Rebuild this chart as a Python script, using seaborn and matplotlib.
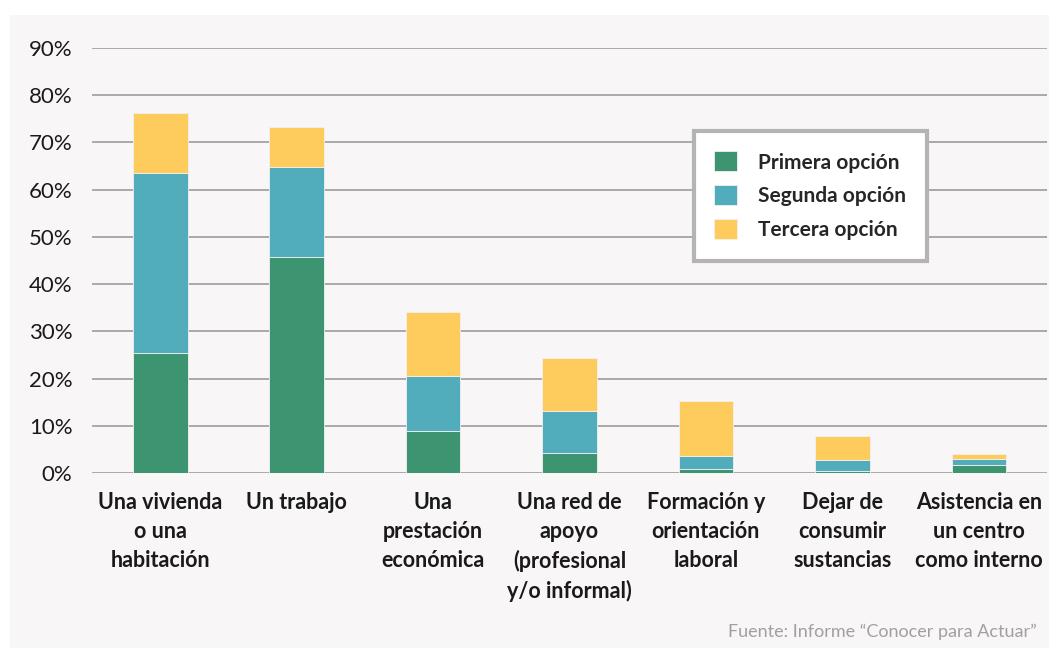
import numpy as np
import pandas as pd
import matplotlib
matplotlib.use("Agg")
import matplotlib.pyplot as plt
from matplotlib.patches import Rectangle
from matplotlib.ticker import PercentFormatter
import seaborn as sns

# data (percent)
categorias = [
    "Una vivienda\no una\nhabitación",
    "Un trabajo",
    "Una\nprestación\neconómica",
    "Una red de\napoyo\n(profesional\ny/o informal)",
    "Formación y\norientación\nlaboral",
    "Dejar de\nconsumir\nsustancias",
    "Asistencia en\nun centro\ncomo interno",
]
primera = [25.4, 45.7, 8.8, 4.3, 0.9, 0.4, 1.7]
segunda = [38.2, 19.0, 11.8, 8.9, 2.8, 2.3, 1.3]
tercera = [12.6, 8.5, 13.6, 11.2, 11.6, 5.1, 1.1]

series = ["Primera opción", "Segunda opción", "Tercera opción"]
colores = ["#3d9470", "#51acbc", "#fdcc5c"]

sns.set_theme(style="white")
plt.rcParams["font.family"] = ["Lato", "DejaVu Sans"]

df = pd.DataFrame({
    "categoria": categorias,
    series[0]: primera,
    series[1]: segunda,
    series[2]: tercera,
})

fig = plt.figure(figsize=(10.49, 6.48), dpi=100)
fig.patch.set_facecolor("white")
# light grey panel behind the chart
fig.patches.append(Rectangle((10 / 1049, 0), 1 - 10 / 1049, 1 - 15 / 648,
                             transform=fig.transFigure, facecolor="#f8f6f7",
                             edgecolor="none", zorder=-10))

ax = fig.add_axes([92 / 1049, 1 - 473 / 648, (1047 - 92) / 1049, (473 - 48) / 648])
ax.set_facecolor("none")

base = np.zeros(len(categorias))
for serie, color in zip(series, colores):
    sns.barplot(data=df, x="categoria", y=serie, color=color, width=0.4,
                saturation=1, bottom=base, ax=ax, label=serie, zorder=3,
                edgecolor="#f3f0f0", linewidth=0.6)
    base = base + df[serie].to_numpy()

ax.set_ylim(0, 90)
ax.set_xlim(-0.5, 6.5)
ax.set_yticks(np.arange(0, 91, 10))
ax.yaxis.set_major_formatter(PercentFormatter(decimals=0))
ax.grid(axis="y", color="#a9a9a9", linewidth=1.4, zorder=0)
ax.set_axisbelow(True)
for s in ax.spines.values():
    s.set_visible(False)
ax.set_xlabel("")
ax.set_ylabel("")
ax.tick_params(axis="y", length=0, pad=14, labelsize=16, labelcolor="#1a1a1a")
ax.tick_params(axis="x", length=0, pad=14, labelsize=15.5, labelcolor="#1a1a1a")
for t in ax.get_xticklabels():
    t.set_fontweight("bold")
    t.set_linespacing(1.45)
    t.set_verticalalignment("top")

leg = ax.legend(loc="upper left", bbox_to_anchor=(0.619, 0.83), frameon=True,
                fancybox=False, prop={"weight": "bold", "size": 15},
                handlelength=1.1, handleheight=1.1, labelspacing=0.6,
                borderpad=1.0, handletextpad=1.0)
leg.get_frame().set_edgecolor("#b4b4b4")
leg.get_frame().set_linewidth(3)
leg.get_frame().set_facecolor("white")
leg.get_frame().set_alpha(1)

fig.text(1037 / 1049, 1 - 632 / 648, "Fuente: Informe “Conocer para Actuar”",
         ha="right", va="center", fontsize=13, color="#a0a0a0")

fig.savefig("out.png", dpi=100)
